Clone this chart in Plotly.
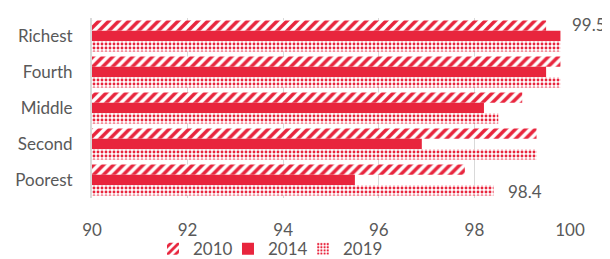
import plotly.graph_objects as go

categories = ["Richest", "Fourth", "Middle", "Second", "Poorest"]
years = ["2010", "2014", "2019"]
v2010 = [99.5, 99.8, 99.0, 99.3, 97.8]
v2014 = [99.8, 99.5, 98.2, 96.9, 95.5]
v2019 = [99.8, 99.8, 98.5, 99.3, 98.4]
x_ticks = [90, 92, 94, 96, 98, 100]

RED = "#E8253D"
GRAY = "#595959"
FONT = "Lato, 'Open Sans', sans-serif"

series = [v2010, v2014, v2019]
patterns = [
    dict(shape="/", fgcolor=RED, bgcolor="white", size=7, solidity=0.5, fillmode="replace"),
    None,
    dict(shape=".", fgcolor=RED, bgcolor="white", size=4, solidity=0.4, fillmode="replace"),
]
legend_ids = ["legend", "legend2", "legend3"]
legend_x = [0.1276, 0.2845, 0.4414]

fig = go.Figure()
for name, vals, pat, lid in zip(years, series, patterns, legend_ids):
    marker = dict(color=RED, line=dict(width=0))
    if pat is not None:
        marker["pattern"] = pat
    fig.add_trace(go.Bar(
        y=categories, x=vals, name=name, orientation="h", marker=marker, legend=lid,
    ))

legend_style = dict(orientation="h", xanchor="left", y=-0.285, yanchor="middle",
                    font=dict(size=17, color=GRAY), itemwidth=30,
                    bgcolor="rgba(0,0,0,0)")

fig.update_layout(
    width=602, height=251,
    margin=dict(l=84, r=40, t=10, b=61, autoexpand=False),
    paper_bgcolor="white", plot_bgcolor="white",
    barmode="group", bargap=0.14, bargroupgap=0,
    font=dict(family=FONT, size=17, color=GRAY),
    showlegend=True,
    legend=dict(x=legend_x[0], **legend_style),
    legend2=dict(x=legend_x[1], **legend_style),
    legend3=dict(x=legend_x[2], **legend_style),
    xaxis=dict(range=[90, 100], tickvals=x_ticks, ticktext=[str(t) for t in x_ticks],
               showgrid=True, gridcolor="#D9D9D9", gridwidth=1, zeroline=False,
               showline=False, ticks="", ticklabelstandoff=20,
               tickfont=dict(size=17, color=GRAY)),
    yaxis=dict(categoryorder="array", categoryarray=categories, autorange="reversed",
               showline=True, linecolor="#D9D9D9", linewidth=2, ticks="",
               ticklabelstandoff=14, tickfont=dict(size=17, color=GRAY)),
    annotations=[
        dict(text="99.5", xref="paper", yref="paper", x=1.0795, y=0.965,
             xanchor="right", yanchor="middle", showarrow=False,
             font=dict(size=17, color=GRAY)),
        dict(text="98.4", xref="x", yref="paper", x=99.06, y=0.035,
             xanchor="center", yanchor="middle", showarrow=False,
             font=dict(size=17, color=GRAY)),
    ],
)

fig.write_html("out.html")
